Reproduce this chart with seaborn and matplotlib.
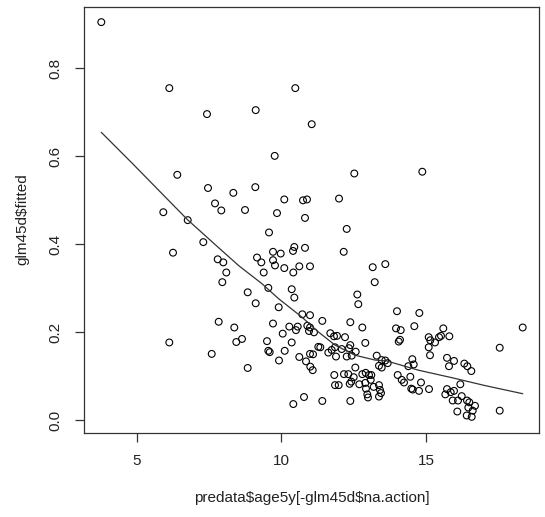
import numpy as np
import pandas as pd
import matplotlib
matplotlib.use("Agg")
import matplotlib.pyplot as plt
import seaborn as sns

# ---- data ----
age = [3.784, 6.133, 10.485, 9.117, 7.435, 11.052, 6.409, 7.470, 8.344, 7.712,
       7.929, 5.926, 6.769, 7.307, 6.261, 7.805, 7.998, 8.102, 7.964, 7.839,
       8.378, 6.133, 7.598, 8.447, 9.774, 12.523, 9.104, 10.105, 10.751, 10.889,
       11.995, 8.748, 9.853, 10.820, 12.261, 9.577, 10.451, 10.406, 10.820, 9.715,
       9.981, 12.157, 9.162, 9.311, 9.715, 9.784, 10.105, 10.623, 10.993, 10.416,
       9.394, 13.159, 13.594, 13.228, 8.841, 9.553, 10.361, 10.451, 9.117, 9.912,
       12.627, 12.661, 10.727, 10.993, 11.418, 9.715, 10.278, 10.568, 10.509, 10.900,
       10.993, 10.959, 11.131, 12.385, 12.800, 10.050, 8.644, 9.508, 9.553, 9.601,
       10.361, 11.694, 11.822, 11.926, 12.202, 11.280, 11.349, 10.119, 10.623, 10.993,
       11.097, 10.855, 9.922, 8.841, 11.625, 11.743, 11.857, 11.891, 12.088, 12.385,
       12.340, 12.572, 12.261, 12.433, 12.903, 11.003, 11.086, 12.558, 11.832, 12.167,
       12.316, 12.503, 12.420, 12.364, 11.857, 11.984, 12.696, 12.800, 12.917, 13.031,
       13.111, 13.090, 12.903, 13.193, 12.927, 12.972, 12.996, 13.376, 13.411, 13.445,
       13.376, 13.297, 13.470, 13.376, 13.470, 13.594, 13.677, 10.416, 10.786, 11.418,
       12.385, 14.872, 13.998, 14.769, 13.964, 14.126, 14.596, 14.102, 14.057, 15.597,
       15.093, 15.148, 15.311, 15.449, 15.518, 15.805, 15.093, 15.138, 18.340, 17.546,
       14.527, 14.575, 14.389, 15.725, 15.967, 15.794, 16.323, 16.427, 16.565, 14.022,
       14.161, 14.240, 14.458, 14.827, 14.492, 14.540, 14.758, 15.104, 16.185, 15.725,
       15.967, 15.667, 15.853, 15.922, 16.105, 16.233, 16.416, 16.496, 16.692, 16.461,
       16.613, 16.081, 16.406, 16.578, 17.546]

fitted = [0.905, 0.755, 0.755, 0.705, 0.696, 0.673, 0.558, 0.528, 0.517, 0.493,
          0.477, 0.473, 0.455, 0.405, 0.381, 0.366, 0.359, 0.336, 0.314, 0.224,
          0.211, 0.177, 0.151, 0.178, 0.601, 0.561, 0.530, 0.502, 0.500, 0.502,
          0.504, 0.478, 0.471, 0.460, 0.435, 0.427, 0.394, 0.385, 0.392, 0.383,
          0.379, 0.383, 0.370, 0.359, 0.364, 0.352, 0.346, 0.350, 0.350, 0.336,
          0.336, 0.348, 0.355, 0.314, 0.291, 0.301, 0.298, 0.279, 0.266, 0.257,
          0.286, 0.264, 0.241, 0.239, 0.226, 0.220, 0.213, 0.213, 0.205, 0.215,
          0.211, 0.203, 0.200, 0.223, 0.211, 0.197, 0.185, 0.180, 0.158, 0.155,
          0.177, 0.198, 0.191, 0.192, 0.189, 0.167, 0.166, 0.158, 0.144, 0.151,
          0.150, 0.134, 0.136, 0.119, 0.154, 0.160, 0.166, 0.145, 0.162, 0.171,
          0.164, 0.156, 0.145, 0.147, 0.176, 0.122, 0.114, 0.120, 0.103, 0.105,
          0.105, 0.098, 0.088, 0.083, 0.080, 0.080, 0.082, 0.105, 0.108, 0.103,
          0.103, 0.092, 0.085, 0.076, 0.072, 0.059, 0.052, 0.080, 0.069, 0.062,
          0.054, 0.147, 0.137, 0.124, 0.120, 0.136, 0.130, 0.037, 0.053, 0.044,
          0.044, 0.565, 0.248, 0.244, 0.209, 0.205, 0.214, 0.183, 0.179, 0.209,
          0.189, 0.182, 0.177, 0.189, 0.192, 0.191, 0.166, 0.148, 0.211, 0.165,
          0.139, 0.127, 0.123, 0.142, 0.135, 0.123, 0.129, 0.123, 0.112, 0.103,
          0.092, 0.086, 0.099, 0.086, 0.072, 0.070, 0.067, 0.071, 0.082, 0.071,
          0.067, 0.059, 0.064, 0.045, 0.045, 0.055, 0.045, 0.041, 0.033, 0.029,
          0.022, 0.020, 0.011, 0.008, 0.022]

line_age = [3.784, 4.855, 6.762, 7.791, 8.541, 9.325, 9.898, 10.706, 11.280,
            11.857, 12.547, 13.238, 13.642, 14.734, 15.888, 17.038, 18.340]
line_fit = [0.6545, 0.584, 0.456, 0.395, 0.351, 0.311, 0.277, 0.235, 0.201,
            0.171, 0.148, 0.137, 0.135, 0.114, 0.097, 0.079, 0.0605]

x_ticks = [5, 10, 15]
y_ticks = [0.0, 0.2, 0.4, 0.6, 0.8]
y_tick_labels = ["0.0", "0.2", "0.4", "0.6", "0.8"]

# ---- plotting ----
sns.set_style("ticks")
plt.rcParams["font.family"] = ["Liberation Sans", "DejaVu Sans"]

fig = plt.figure(figsize=(5.45, 5.17), dpi=100)
ax = fig.add_axes([0.1541, 0.1634, 0.8358, 0.8236])

df = pd.DataFrame({"age": age, "fitted": fitted})
sns.scatterplot(data=df, x="age", y="fitted", ax=ax, marker="o", s=24,
                linewidth=0.8, legend=False)
coll = ax.collections[0]
coll.set_facecolor("none")
coll.set_edgecolor("black")

sns.lineplot(x=line_age, y=line_fit, ax=ax, color="#333333", linewidth=0.9,
             sort=False, estimator=None)

ax.set_xlim(3.186, 18.92)
ax.set_ylim(-0.0277, 0.940)
ax.set_xticks(x_ticks)
ax.set_xticklabels([str(t) for t in x_ticks])
ax.set_yticks(y_ticks)
ax.set_yticklabels(y_tick_labels, rotation=90, va="center")

for sp in ax.spines.values():
    sp.set_visible(True)
    sp.set_color("#333333")
    sp.set_linewidth(0.9)

ax.tick_params(axis="both", direction="out", length=6.5, width=0.9,
               color="#333333", labelsize=11, labelcolor="#222222")
ax.tick_params(axis="x", pad=9)
ax.tick_params(axis="y", pad=9)

ax.set_xlabel(r"predata\$age5y[-glm45d\$na.action]", fontsize=11, color="#222222")
ax.set_ylabel(r"glm45d\$fitted", fontsize=11, color="#222222")
ax.xaxis.set_label_coords(0.5, -0.154)
ax.xaxis.label.set_va("center")
ax.yaxis.set_label_coords(-0.136, 0.5)
ax.yaxis.label.set_va("center")

fig.savefig("out.png", dpi=100, facecolor="white")
